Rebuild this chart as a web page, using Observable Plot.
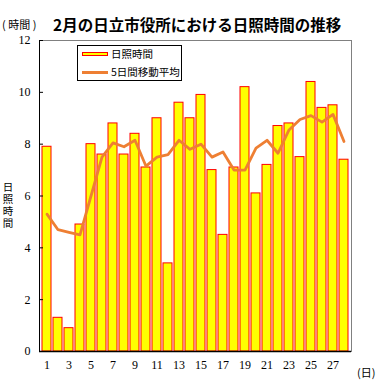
<!DOCTYPE html>
<html><head><meta charset="utf-8">
<script src="https://cdn.jsdelivr.net/npm/d3@7"></script>
<script src="https://cdn.jsdelivr.net/npm/@observablehq/plot@0.6"></script>
<style>
body{margin:0;background:#fff;}
#wrap{position:relative;width:388px;height:389px;overflow:hidden;font-family:"Noto Sans CJK JP","Noto Sans",sans-serif;color:#000;}
#wrap svg{position:absolute;left:0;top:0;}
.abs{position:absolute;white-space:nowrap;line-height:1;}
</style></head><body><div id="wrap"></div>
<script>
// ---- data ----
const titleText = "2月の日立市役所における日照時間の推移";
const yUnitText = "( 時間 )";
const xUnitText = "(日)";
const yTitleText = "日照時間";
const seriesNames = ["日照時間", "5日間移動平均"];
const days = [1,2,3,4,5,6,7,8,9,10,11,12,13,14,15,16,17,18,19,20,21,22,23,24,25,26,27,28];
const sunshine = [7.9,1.3,0.9,4.9,8.0,7.6,8.8,7.6,8.4,7.1,9.0,3.4,9.6,9.0,9.9,7.0,4.5,7.1,10.2,6.1,7.2,8.7,8.8,7.5,10.4,9.4,9.5,7.4];
const movingAvg = [5.3,4.7,4.6,4.5,6.0,7.5,8.05,7.9,8.15,7.15,7.5,7.6,8.15,7.8,8.0,7.5,7.7,7.0,7.0,7.85,8.15,7.65,8.55,8.95,9.1,8.85,9.15,8.1];
const yTicks = [0,2,4,6,8,10,12];
const xTickLabels = [1,3,5,7,9,11,13,15,17,19,21,23,25,27];

const data = days.map((d,i)=>({day:d, hours:sunshine[i], avg:movingAvg[i]}));

const chart = Plot.plot({
  width:388, height:389,
  marginLeft:39, marginRight:37, marginTop:40, marginBottom:38,
  style:{fontFamily:"'Liberation Serif', serif", fontSize:"12px", background:"transparent", color:"#000"},
  x:{type:"band", domain:days, paddingInner:0.22, paddingOuter:0.11, align:0.5},
  y:{domain:[0,12]},
  marks:[
    Plot.frame({stroke:"#808080"}),
    Plot.barY(data,{x:"day", y:"hours", fill:"#FFFF00", stroke:"#FF0000", strokeWidth:1}),
    Plot.lineY(data,{x:"day", y:"avg", stroke:"#EE7F33", strokeWidth:2.8, strokeLinejoin:"round"}),
    Plot.frame({anchor:"left", stroke:"#000"}),
    Plot.ruleY([0],{stroke:"#000", strokeWidth:1.5}),
    Plot.axisY({ticks:yTicks, tickSize:-4, tickPadding:13, label:null}),
    Plot.axisX({ticks:xTickLabels, tickSize:0, tickPadding:9, label:null})
  ]
});
const wrap = document.getElementById("wrap");
wrap.appendChild(chart);

function add(html, css){
  const d = document.createElement("div");
  d.className = "abs";
  d.innerHTML = html;
  Object.assign(d.style, css);
  wrap.appendChild(d);
  return d;
}
add(titleText, {left:"53px", top:"17px", fontSize:"15.5px", fontWeight:"bold"});
add(yUnitText, {left:"2px", top:"19px", fontSize:"11px"});
add(yTitleText, {left:"2px", top:"182px", fontSize:"10.5px", writingMode:"vertical-rl", textOrientation:"upright", letterSpacing:"1.3px"});
add(xUnitText, {left:"357px", top:"366.5px", fontSize:"11px"});
// legend
add("", {left:"76.5px", top:"45px", width:"103px", height:"34px", border:"1px solid #000", background:"#fff"});
add("", {left:"82px", top:"51.5px", width:"24px", height:"2px", border:"1px solid #FF0000", background:"#FFFF00"});
add(seriesNames[0], {left:"111px", top:"48.7px", fontSize:"10.5px"});
add("", {left:"82px", top:"70.5px", width:"26px", height:"3px", background:"#EE7F33"});
add(seriesNames[1], {left:"111px", top:"66.7px", fontSize:"10.5px"});
</script></body></html>
